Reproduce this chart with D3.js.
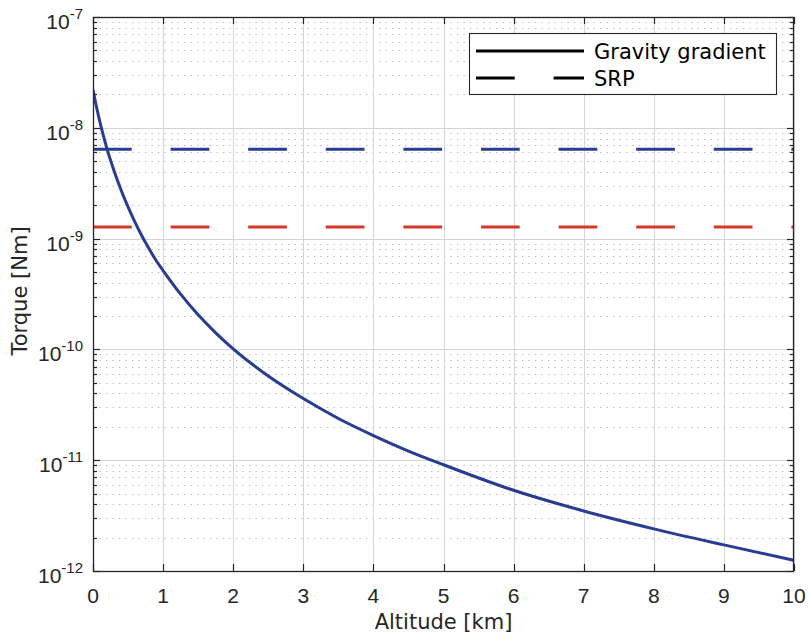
<!DOCTYPE html>
<html>
<head>
<meta charset="utf-8">
<script src="https://cdn.jsdelivr.net/npm/d3@7"></script>
<style>
  html, body { margin: 0; padding: 0; background: #ffffff; }
  svg { display: block; }
</style>
</head>
<body>
<script>
// ---- Data ----
const altitudeKm = [0, 0.05, 0.1, 0.15, 0.2, 0.3, 0.4, 0.5, 0.6, 0.7, 0.8, 0.9, 1, 1.25, 1.5, 1.75, 2, 2.5, 3, 3.5, 4, 4.5, 5, 6, 7, 8, 9, 10];
const gravityTorque = [2.2e-8, 1.54e-8, 1.12e-8, 8.4e-9, 6.45e-9, 4.1e-9, 2.75e-9, 1.93e-9, 1.40e-9, 1.05e-9, 8.1e-10, 6.35e-10, 5.15e-10, 3.15e-10, 2.05e-10, 1.41e-10, 1.01e-10, 5.75e-11, 3.6e-11, 2.38e-11, 1.67e-11, 1.21e-11, 9.1e-12, 5.35e-12, 3.48e-12, 2.4e-12, 1.72e-12, 1.25e-12];
const srpTorque = [6.4e-9, 1.27e-9];
const srpColors = ["#283c92", "#d5372b"];
const xTickValues = [0, 1, 2, 3, 4, 5, 6, 7, 8, 9, 10];
const yTickExponents = [-12, -11, -10, -9, -8, -7];
const legendLabels = ["Gravity gradient", "SRP"];
const xLabel = "Altitude [km]";
const yLabel = "Torque [Nm]";

// ---- Layout ----
const W = 809, H = 636;
const L = 93, R = 794, T = 17, B = 571;
const axisColor = "#262626";
const curveColor = "#283c92";

const svg = d3.select("body").append("svg").attr("width", W).attr("height", H);

const x = d3.scaleLinear().domain([0, 10]).range([L, R]);
const y = d3.scaleLog().domain([1e-12, 1e-7]).range([B, T]);

const majorY = yTickExponents.map(e => Math.pow(10, e));
const minorY = y.ticks().filter(v => {
  const m = v / Math.pow(10, Math.floor(Math.log10(v) + 1e-9));
  return Math.round(m) !== 1;
});

// minor grid (dotted)
const g = svg.append("g");
g.selectAll("line.minor").data(minorY).enter().append("line")
  .attr("x1", L).attr("x2", R)
  .attr("y1", d => Math.round(y(d)) + 0.5).attr("y2", d => Math.round(y(d)) + 0.5)
  .attr("stroke", "#b8b8b8").attr("stroke-width", 1)
  .attr("stroke-dasharray", "1.3,5.2");

// major grid
g.selectAll("line.gx").data(xTickValues).enter().append("line")
  .attr("x1", d => Math.round(x(d)) + 0.5).attr("x2", d => Math.round(x(d)) + 0.5)
  .attr("y1", T).attr("y2", B)
  .attr("stroke", "#d4d4d4").attr("stroke-width", 1);
g.selectAll("line.gy").data(majorY).enter().append("line")
  .attr("x1", L).attr("x2", R)
  .attr("y1", d => Math.round(y(d)) + 0.5).attr("y2", d => Math.round(y(d)) + 0.5)
  .attr("stroke", "#d4d4d4").attr("stroke-width", 1);

// clip
svg.append("clipPath").attr("id", "clip").append("rect")
  .attr("x", L).attr("y", T).attr("width", R - L).attr("height", B - T);

// SRP lines
svg.append("g").attr("clip-path", "url(#clip)")
  .selectAll("line.srp").data(srpTorque).enter().append("line")
  .attr("x1", x(0)).attr("x2", x(10))
  .attr("y1", d => y(d)).attr("y2", d => y(d))
  .attr("stroke", (d, i) => srpColors[i]).attr("stroke-width", 3)
  .attr("stroke-dasharray", "38.7,38.9");

// Gravity gradient curve
const pts = altitudeKm.map((a, i) => [a, gravityTorque[i]]);
svg.append("path").attr("clip-path", "url(#clip)")
  .datum(pts)
  .attr("d", d3.line().x(d => x(d[0])).y(d => y(d[1])).curve(d3.curveMonotoneX))
  .attr("fill", "none").attr("stroke", curveColor).attr("stroke-width", 3)
  .attr("stroke-linejoin", "round");

// axes box
const ax = svg.append("g");
ax.append("rect").attr("x", L + 0.5).attr("y", T + 0.5)
  .attr("width", R - L - 1).attr("height", B - T)
  .attr("fill", "none").attr("stroke", axisColor).attr("stroke-width", 1.3);

// x ticks (bottom and top, inward)
xTickValues.forEach(v => {
  const px = Math.round(x(v)) + 0.5;
  ax.append("line").attr("x1", px).attr("x2", px).attr("y1", B).attr("y2", B - 7)
    .attr("stroke", axisColor).attr("stroke-width", 1.2);
  ax.append("line").attr("x1", px).attr("x2", px).attr("y1", T).attr("y2", T + 7)
    .attr("stroke", axisColor).attr("stroke-width", 1.2);
});
// y ticks major & minor (left and right, inward)
majorY.forEach(v => {
  const py = Math.round(y(v)) + 0.5;
  ax.append("line").attr("x1", L).attr("x2", L + 7).attr("y1", py).attr("y2", py)
    .attr("stroke", axisColor).attr("stroke-width", 1.2);
  ax.append("line").attr("x1", R).attr("x2", R - 7).attr("y1", py).attr("y2", py)
    .attr("stroke", axisColor).attr("stroke-width", 1.2);
});
minorY.forEach(v => {
  const py = Math.round(y(v)) + 0.5;
  ax.append("line").attr("x1", L).attr("x2", L + 4).attr("y1", py).attr("y2", py)
    .attr("stroke", axisColor).attr("stroke-width", 1.2);
  ax.append("line").attr("x1", R).attr("x2", R - 4).attr("y1", py).attr("y2", py)
    .attr("stroke", axisColor).attr("stroke-width", 1.2);
});

// tick labels
const tickFont = "'Liberation Sans', Arial, sans-serif";
ax.selectAll("text.xt").data(xTickValues).enter().append("text")
  .attr("x", d => x(d)).attr("y", 602.5)
  .attr("text-anchor", "middle")
  .attr("font-family", tickFont).attr("font-size", 21).attr("fill", axisColor)
  .text(d => d3.format("d")(d));

yTickExponents.forEach(e => {
  const py = y(Math.pow(10, e));
  const t = ax.append("text").attr("x", 83).attr("y", py + 12)
    .attr("text-anchor", "end")
    .attr("font-family", tickFont).attr("font-size", 21).attr("fill", axisColor);
  t.append("tspan").text("10");
  t.append("tspan").attr("dy", -10).attr("font-size", 15).text(String(e));
});

// axis labels
const labelFont = "'DejaVu Sans', sans-serif";
svg.append("text").attr("x", (L + R) / 2).attr("y", 629)
  .attr("text-anchor", "middle")
  .attr("font-family", labelFont).attr("font-size", 21).attr("fill", axisColor)
  .text(xLabel);
svg.append("text")
  .attr("transform", `translate(27,${(T + B) / 2 - 3}) rotate(-90)`)
  .attr("text-anchor", "middle")
  .attr("font-family", labelFont).attr("font-size", 21).attr("fill", axisColor)
  .text(yLabel);

// legend
const lg = svg.append("g");
lg.append("rect").attr("x", 469.5).attr("y", 33.5).attr("width", 307).attr("height", 61)
  .attr("fill", "#ffffff").attr("stroke", axisColor).attr("stroke-width", 1.1);
const legendRows = [
  { label: legendLabels[0], y: 51, dash: null },
  { label: legendLabels[1], y: 78, dash: "38.7,38.9" }
];
legendRows.forEach(r => {
  const ln = lg.append("line").attr("x1", 476).attr("x2", 584)
    .attr("y1", r.y).attr("y2", r.y)
    .attr("stroke", "#000000").attr("stroke-width", 3);
  if (r.dash) ln.attr("stroke-dasharray", r.dash);
  lg.append("text").attr("x", 594).attr("y", r.y + 7.5)
    .attr("font-family", labelFont).attr("font-size", 21).attr("fill", "#000000")
    .text(r.label);
});
</script>
</body>
</html>
